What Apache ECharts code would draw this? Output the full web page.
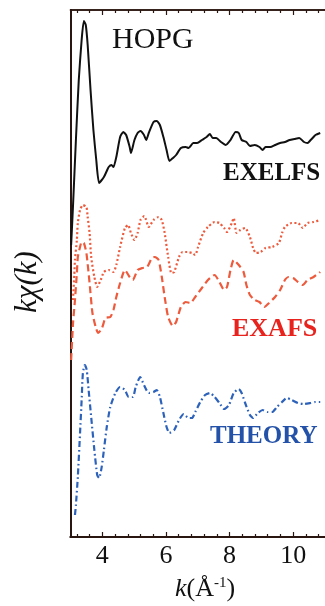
<!DOCTYPE html>
<html>
<head>
<meta charset="utf-8">
<title>HOPG kχ(k)</title>
<script src="https://cdn.jsdelivr.net/npm/echarts@6/dist/echarts.min.js"></script>
<style>
  html, body { margin: 0; padding: 0; background: #ffffff; }
  #chart { width: 325px; height: 606px; }
</style>
</head>
<body>
<div id="chart"></div>
<script>
// k-weighted oscillations kχ(k) of HOPG, curves vertically offset (arbitrary units)
const exelfs = [
  [3.02, 2.92], [3.08, 3.32], [3.17, 3.97], [3.26, 4.57], [3.35, 4.97], [3.42, 5.16],
  [3.48, 5.12], [3.54, 4.92], [3.63, 4.47], [3.72, 4.07], [3.81, 3.77], [3.90, 3.54],
  [4.05, 3.60], [4.14, 3.66], [4.20, 3.70], [4.29, 3.72], [4.35, 3.70], [4.44, 3.80],
  [4.56, 4.00], [4.66, 4.05], [4.75, 4.02], [4.86, 3.90], [4.90, 3.84], [5.01, 3.97],
  [5.11, 4.04], [5.20, 4.06], [5.31, 4.02], [5.38, 3.97], [5.46, 4.04], [5.61, 4.15],
  [5.71, 4.16], [5.81, 4.12], [5.92, 4.00], [6.02, 3.87], [6.11, 3.76], [6.22, 3.79],
  [6.32, 3.82], [6.47, 3.89], [6.62, 3.90], [6.71, 3.89], [6.86, 3.94], [6.98, 3.94],
  [7.13, 3.97], [7.28, 4.00], [7.38, 4.03], [7.47, 3.99], [7.58, 3.99], [7.73, 3.95],
  [7.88, 3.92], [8.03, 3.97], [8.19, 4.05], [8.29, 4.04], [8.38, 3.97], [8.53, 3.95],
  [8.64, 3.91], [8.79, 3.92], [8.94, 3.90], [9.04, 3.87], [9.13, 3.90], [9.28, 3.90],
  [9.43, 3.92], [9.59, 3.94], [9.74, 3.95], [9.89, 3.97], [10.04, 3.98], [10.19, 3.99],
  [10.34, 3.95], [10.45, 3.94], [10.55, 3.97], [10.64, 4.00], [10.70, 4.02], [10.85, 4.04]
];

const exafsDotted = [
  [3.08, 2.37], [3.12, 2.62], [3.14, 2.77], [3.20, 2.97], [3.23, 3.14], [3.30, 3.27],
  [3.39, 3.32], [3.50, 3.30], [3.54, 3.20], [3.60, 3.04], [3.65, 2.80], [3.75, 2.60],
  [3.84, 2.50], [3.95, 2.57], [4.05, 2.65], [4.20, 2.67], [4.35, 2.65], [4.44, 2.72],
  [4.56, 2.90], [4.71, 3.09], [4.81, 3.12], [4.90, 3.04], [5.01, 2.97], [5.11, 3.04],
  [5.20, 3.17], [5.32, 3.21], [5.46, 3.10], [5.61, 3.17], [5.77, 3.20], [5.87, 3.17],
  [5.96, 3.04], [6.07, 2.80], [6.17, 2.64], [6.26, 2.65], [6.41, 2.80], [6.52, 2.85],
  [6.67, 2.85], [6.82, 2.84], [6.92, 2.82], [7.01, 2.90], [7.17, 3.04], [7.32, 3.10],
  [7.53, 3.15], [7.68, 3.14], [7.83, 3.09], [7.92, 3.05], [8.07, 3.14], [8.13, 3.19],
  [8.22, 3.04], [8.34, 3.07], [8.49, 3.09], [8.64, 3.00], [8.74, 2.89], [8.83, 2.84],
  [8.98, 2.85], [9.13, 2.89], [9.34, 2.90], [9.55, 2.94], [9.65, 3.04], [9.74, 3.10],
  [9.95, 3.14], [10.15, 3.14], [10.30, 3.09], [10.45, 3.14], [10.64, 3.15], [10.85, 3.17]
];

const exafsDashed = [
  [3.02, 1.77], [3.08, 2.14], [3.14, 2.37], [3.20, 2.64], [3.23, 2.80], [3.30, 2.90],
  [3.35, 2.95], [3.42, 2.94], [3.50, 2.84], [3.60, 2.54], [3.69, 2.24], [3.80, 2.09],
  [3.87, 2.04], [3.99, 2.09], [4.10, 2.19], [4.25, 2.20], [4.35, 2.27], [4.44, 2.40],
  [4.56, 2.54], [4.71, 2.67], [4.86, 2.60], [4.96, 2.57], [5.11, 2.67], [5.26, 2.69],
  [5.41, 2.70], [5.56, 2.79], [5.65, 2.80], [5.77, 2.77], [5.87, 2.60], [5.96, 2.40],
  [6.07, 2.20], [6.22, 2.11], [6.32, 2.15], [6.47, 2.30], [6.62, 2.35], [6.77, 2.34],
  [6.92, 2.40], [7.13, 2.49], [7.32, 2.57], [7.53, 2.62], [7.68, 2.55], [7.83, 2.47],
  [7.92, 2.50], [8.03, 2.67], [8.13, 2.77], [8.29, 2.72], [8.44, 2.65], [8.53, 2.52],
  [8.64, 2.42], [8.79, 2.37], [8.94, 2.35], [9.09, 2.30], [9.24, 2.34], [9.43, 2.40],
  [9.59, 2.47], [9.74, 2.57], [9.85, 2.60], [10.00, 2.59], [10.15, 2.55], [10.30, 2.52],
  [10.45, 2.57], [10.64, 2.60], [10.85, 2.65]
];

const theory = [
  [3.14, 0.22], [3.17, 0.32], [3.23, 0.60], [3.30, 1.04], [3.35, 1.37], [3.39, 1.64],
  [3.45, 1.72], [3.51, 1.67], [3.57, 1.47], [3.65, 1.20], [3.75, 0.87], [3.84, 0.62],
  [3.90, 0.59], [3.98, 0.70], [4.05, 0.87], [4.14, 1.10], [4.25, 1.30], [4.41, 1.44],
  [4.56, 1.50], [4.71, 1.47], [4.83, 1.40], [4.96, 1.40], [5.05, 1.50], [5.19, 1.60],
  [5.31, 1.52], [5.46, 1.44], [5.61, 1.45], [5.71, 1.47], [5.81, 1.40], [5.92, 1.24],
  [6.02, 1.10], [6.11, 1.04], [6.26, 1.07], [6.41, 1.17], [6.56, 1.23], [6.71, 1.19],
  [6.82, 1.19], [6.92, 1.25], [7.08, 1.35], [7.23, 1.42], [7.38, 1.44], [7.53, 1.40],
  [7.68, 1.34], [7.83, 1.28], [7.98, 1.32], [8.13, 1.44], [8.29, 1.48], [8.38, 1.44],
  [8.49, 1.34], [8.64, 1.22], [8.74, 1.19], [8.89, 1.24], [9.04, 1.27], [9.19, 1.25],
  [9.34, 1.25], [9.49, 1.30], [9.65, 1.35], [9.80, 1.39], [9.95, 1.37], [10.15, 1.34],
  [10.34, 1.33], [10.55, 1.34], [10.70, 1.35], [10.85, 1.35]
];

// axis ticks
const kMajorTicks = [4, 6, 8, 10];
const kMinorTicks = [3.2, 3.6, 4.4, 4.8, 5.2, 5.6, 6.4, 6.8, 7.2, 7.6,
                     8.4, 8.8, 9.2, 9.6, 10.4, 10.8];
const kRange = [3, 11];
const yRange = [0, 5.27];

const SERIF = '"Liberation Serif", "DejaVu Serif", serif';
const FRAME = '#2a1610';

const chart = echarts.init(document.getElementById('chart'), null, { renderer: 'canvas' });

function kAxis(position, ticks, len, labels) {
  return {
    type: 'value',
    position: position,
    min: kRange[0],
    max: kRange[1],
    splitLine: { show: false },
    axisLine: { show: true, onZero: false, lineStyle: { color: FRAME, width: position === 'bottom' ? 2 : 1.5 } },
    axisTick: { show: true, inside: true, length: len, customValues: ticks, lineStyle: { color: FRAME, width: 1.2 } },
    axisLabel: labels
      ? { show: true, customValues: kMajorTicks, fontFamily: SERIF, fontSize: 26, color: '#111', margin: 6 }
      : { show: false }
  };
}

chart.setOption({
  animation: false,
  backgroundColor: '#ffffff',
  grid: { left: 70.5, right: -10, top: 10, bottom: 69, containLabel: false },
  xAxis: [
    kAxis('bottom', kMajorTicks, 5, true),
    kAxis('bottom', kMinorTicks, 3, false),
    kAxis('top', kMajorTicks, 5, false),
    kAxis('top', kMinorTicks, 3, false)
  ],
  yAxis: {
    type: 'value',
    min: yRange[0],
    max: yRange[1],
    axisLine: { show: true, onZero: false, lineStyle: { color: FRAME, width: 2 } },
    axisTick: { show: false },
    axisLabel: { show: false },
    splitLine: { show: false }
  },
  series: [
    {
      name: 'EXELFS', type: 'line', data: exelfs, showSymbol: false, smooth: 0.2,
      lineStyle: { color: '#111111', width: 2 }
    },
    {
      name: 'EXAFS', type: 'line', data: exafsDotted, showSymbol: false, smooth: 0.2,
      lineStyle: { color: '#ee5a3c', width: 2.2, type: [2, 2.4] }
    },
    {
      name: 'EXAFS (2)', type: 'line', data: exafsDashed, showSymbol: false, smooth: 0.2,
      lineStyle: { color: '#ee5a3c', width: 2.2, type: [7, 4] }
    },
    {
      name: 'THEORY', type: 'line', data: theory, showSymbol: false, smooth: 0.2,
      lineStyle: { color: '#2d62bb', width: 2.2, type: [6, 3, 1.6, 3] }
    }
  ],
  graphic: [
    { type: 'text', left: 112, top: 25, style: { text: 'HOPG', font: '30px ' + SERIF, fill: '#111' } },
    { type: 'text', left: 223, top: 161, style: { text: 'EXELFS', font: 'bold 25px ' + SERIF, fill: '#111' } },
    { type: 'text', left: 232, top: 316, style: { text: 'EXAFS', font: 'bold 26px ' + SERIF, fill: '#e8221c' } },
    { type: 'text', left: 210, top: 424, style: { text: 'THEORY', font: 'bold 25px ' + SERIF, fill: '#2452a8' } },
    {
      type: 'text', x: 205, y: 589,
      style: {
        text: '{i|k}{n|(Å}{s|-1}{n|)}',
        align: 'center', verticalAlign: 'middle',
        rich: {
          i: { fontFamily: SERIF, fontStyle: 'italic', fontSize: 26, fill: '#111' },
          n: { fontFamily: SERIF, fontSize: 26, fill: '#111' },
          s: { fontFamily: SERIF, fontSize: 15, fill: '#111', verticalAlign: 'top', padding: [0, 0, 8, 0] }
        }
      }
    },
    {
      type: 'text', x: 28, y: 282, rotation: Math.PI / 2,
      style: {
        text: 'kχ(k)', font: 'italic 31px ' + SERIF, fill: '#111',
        align: 'center', verticalAlign: 'middle'
      }
    }
  ]
});
</script>
</body>
</html>
